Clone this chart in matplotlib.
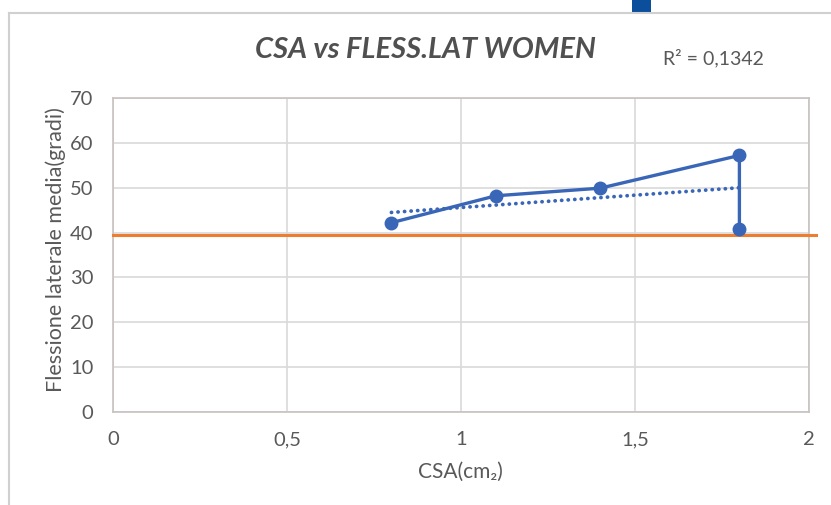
import numpy as np
import matplotlib
matplotlib.use("Agg")
import matplotlib.pyplot as plt
from matplotlib.lines import Line2D
from matplotlib.patches import Rectangle
from matplotlib.ticker import FuncFormatter

# ---- data ----
csa = [0.8, 1.1, 1.4, 1.8, 1.8]
flessione = [42.2, 48.2, 49.9, 57.2, 40.9]
reference_level = 39.5
r2_label = "R² = 0,1342"
title = "CSA vs FLESS.LAT WOMEN"
xlabel = "CSA(cm₂)"
ylabel = "Flessione laterale media(gradi)"
x_ticks = [0, 0.5, 1, 1.5, 2]
y_ticks = [0, 10, 20, 30, 40, 50, 60, 70]

plt.rcParams['font.family'] = ['Lato', 'DejaVu Sans']

W, H = 831, 505
fig = plt.figure(figsize=(W / 100, H / 100), dpi=100)
fig.patch.set_facecolor("white")

ax = fig.add_axes([113 / W, 1 - 412 / H, (809 - 113) / W, (412 - 98) / H])

blue = "#3A66B8"
orange = "#ED7D31"
text_col = "#595959"
grid_col = "#D9D9D9"

ax.set_xlim(0, 2)
ax.set_ylim(0, 70)
ax.set_xticks(x_ticks)
ax.set_yticks(y_ticks)
fmt = FuncFormatter(lambda v, p: ("%g" % v).replace(".", ","))
ax.xaxis.set_major_formatter(fmt)
ax.grid(True, color=grid_col, linewidth=1.2)
ax.set_axisbelow(True)
for s in ax.spines.values():
    s.set_color("#C8C2C0")
    s.set_linewidth(1.2)
ax.tick_params(length=0, colors=text_col, labelsize=14.5, pad=14)
ax.tick_params(axis='y', pad=14)

# reference horizontal line (extends slightly past plot)
ax.plot([0, 2.02], [reference_level, reference_level], color=orange,
        linewidth=2.2, clip_on=False, zorder=3)

# trendline
coef = np.polyfit(csa, flessione, 1)
tx = np.array([min(csa), max(csa)])
ax.plot(tx, np.polyval(coef, tx), color=blue, linestyle=(0, (0.05, 1.7)),
        linewidth=2.7, dash_capstyle='round', zorder=4)

# data series
ax.plot(csa, flessione, color=blue, linewidth=2.4, marker='o',
        markersize=9, zorder=5)

fig.text(460 / W, 1 - 472 / H, xlabel, ha='center', va='center',
         fontsize=15, color=text_col)
fig.text(56 / W, 1 - 250 / H, ylabel, ha='center', va='center',
         rotation=90, fontsize=15.5, color=text_col)

fig.text(425 / W, 1 - 50 / H, title, ha='center', va='center',
         fontsize=21, fontweight='bold', fontstyle='italic', color="#505050")
fig.text(713 / W, 1 - 58 / H, r2_label, ha='center', va='center',
         fontsize=14, color=text_col)

# outer frame lines and blue marker
fig.add_artist(Line2D([9 / W, 1], [1 - 13 / H, 1 - 13 / H], color="#D0D0D0",
                      linewidth=1.5, transform=fig.transFigure))
fig.add_artist(Line2D([9 / W, 9 / W], [0, 1 - 13 / H], color="#D0D0D0",
                      linewidth=1.5, transform=fig.transFigure))
fig.add_artist(Rectangle((632 / W, 1 - 12 / H), 19 / W, 12 / H,
                         facecolor="#0B4F9C", edgecolor='none',
                         transform=fig.transFigure))

fig.savefig("out.png", dpi=100)
